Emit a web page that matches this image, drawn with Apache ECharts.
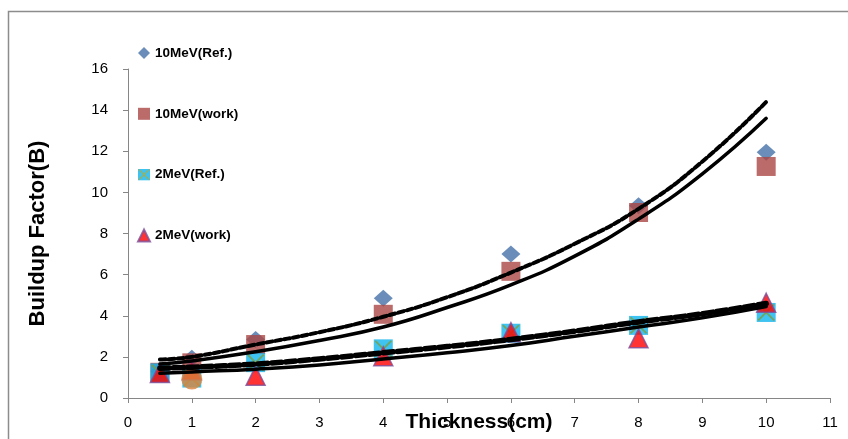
<!DOCTYPE html>
<html>
<head>
<meta charset="utf-8">
<script src="https://cdn.jsdelivr.net/npm/echarts@6/dist/echarts.min.js"></script>
<style>
html,body{margin:0;padding:0;background:#fff;}
#chart{width:848px;height:439px;}
</style>
</head>
<body>
<div id="chart"></div>
<script>
// ---- data ----
const thickness = [0.5, 1, 2, 4, 6, 8, 10];
const mev10Ref  = [1.3, 1.93, 2.85, 4.85, 7.0, 9.35, 11.95];
const mev10Work = [1.25, 1.71, 2.6, 4.07, 6.16, 9.02, 11.26];
const mev2Ref   = [1.22, 0.97, 1.72, 2.39, 3.15, 3.53, 4.16];
const mev2Work  = [1.22, 1.35, 1.08, 2.03, 3.2, 2.9, 4.63];
const extraX = [1];
const extraY = [0.92];

// trend lines
const trendX = [0.5, 1, 2, 3, 4, 5, 6, 7, 8, 9, 10];
const trend10Dashed = [1.87, 2.0, 2.6, 3.2, 3.95, 4.9, 6.1, 7.5, 9.2, 11.5, 14.4];
const trend10Solid  = [1.65, 1.8, 2.25, 2.8, 3.45, 4.4, 5.5, 6.9, 8.7, 10.9, 13.6];
const trend2Dashed  = [1.45, 1.5, 1.65, 1.9, 2.2, 2.5, 2.85, 3.25, 3.7, 4.1, 4.6];
const trend2Solid   = [1.2, 1.27, 1.4, 1.6, 1.9, 2.2, 2.55, 3.0, 3.45, 3.9, 4.45];

const seriesNames = ['10MeV(Ref.)', '10MeV(work)', '2MeV(Ref.)', '2MeV(work)'];
const xTicks = {min: 0, max: 11, interval: 1};
const yTicks = {min: 0, max: 16, interval: 2};

function pairs(xs, ys) { return xs.map((x, i) => [x, ys[i]]); }

const crossSquare = 'image://data:image/svg+xml;utf8,' + encodeURIComponent(
  '<svg xmlns="http://www.w3.org/2000/svg" width="40" height="40" viewBox="0 0 20 20">' +
  '<rect x="0" y="0" width="20" height="20" fill="#0FB4EE"/>' +
  '<path d="M1.5 1.5 L18.5 18.5 M18.5 1.5 L1.5 18.5" stroke="#7F9E3A" stroke-width="2.2" fill="none"/>' +
  '</svg>');

const labelFont = '"Liberation Sans", Arial, sans-serif';
const boldFont = '"Liberation Sans", Arial, sans-serif';

const chart = echarts.init(document.getElementById('chart'), null, {renderer: 'canvas'});

function trend(data, type, width) {
  return {
    type: 'line', data: data, smooth: true, showSymbol: false, symbol: 'none',
    silent: true, z: 5, legendHoverLink: false,
    lineStyle: {color: '#000', width: width, type: type, cap: 'round', join: 'round'}
  };
}

chart.setOption({
  animation: false,
  backgroundColor: '#fff',
  graphic: [{
    type: 'rect', left: 6, top: 9, shape: {width: 900, height: 500},
    style: {fill: 'none', stroke: '#8c8c8c', lineWidth: 1.5}, z: -1
  }],
  grid: {left: 128, right: 18, top: 69, bottom: 41, containLabel: false, outerBoundsMode: 'none'},
  legend: {
    orient: 'vertical', left: 137, top: 46, itemGap: 46.8, padding: 0,
    itemWidth: 12, itemHeight: 12,
    textStyle: {fontFamily: boldFont, fontWeight: 'bold', fontSize: 13.5, color: '#000'},
    data: [
      {name: seriesNames[0], icon: 'diamond'},
      {name: seriesNames[1], icon: 'rect'},
      {name: seriesNames[2], icon: crossSquare},
      {name: seriesNames[3], icon: 'triangle'}
    ]
  },
  xAxis: {
    type: 'value', min: xTicks.min, max: xTicks.max, interval: xTicks.interval,
    name: 'Thickness(cm)', nameLocation: 'middle', nameGap: 14, nameMoveOverlap: false,
    nameTextStyle: {fontFamily: boldFont, fontWeight: 'bold', fontSize: 21, color: '#000'},
    axisLine: {show: true, lineStyle: {color: '#868686', width: 1}},
    axisTick: {show: true, length: 5, lineStyle: {color: '#868686'}},
    axisLabel: {margin: 17, fontFamily: labelFont, fontSize: 15, color: '#000'},
    splitLine: {show: false}
  },
  yAxis: {
    type: 'value', min: yTicks.min, max: yTicks.max, interval: yTicks.interval,
    name: 'Buildup Factor(B)', nameLocation: 'middle', nameGap: 79, nameMoveOverlap: false,
    nameTextStyle: {fontFamily: boldFont, fontWeight: 'bold', fontSize: 22, color: '#000'},
    axisLine: {show: true, lineStyle: {color: '#868686', width: 1}},
    axisTick: {show: true, length: 5, lineStyle: {color: '#868686'}},
    axisLabel: {margin: 20, fontFamily: labelFont, fontSize: 15, color: '#000'},
    splitLine: {show: false}
  },
  series: [
    {name: seriesNames[0], type: 'scatter', data: pairs(thickness, mev10Ref),
     symbol: 'diamond', symbolSize: [19, 17], itemStyle: {color: '#4572A7'}},
    {name: seriesNames[1], type: 'scatter', data: pairs(thickness, mev10Work),
     symbol: 'rect', symbolSize: 19, itemStyle: {color: '#AA4643'}},
    {name: seriesNames[2], type: 'scatter', data: pairs(thickness, mev2Ref),
     symbol: 'rect', symbolSize: 19, itemStyle: {color: '#0FB4EE'}},
    {name: seriesNames[2], type: 'scatter', data: pairs(thickness, mev2Ref),
     symbol: 'path://M0,0L20,20M20,0L0,20', symbolSize: 16,
     itemStyle: {color: 'none', borderColor: '#7F9E3A', borderWidth: 1.8}},
    {name: seriesNames[3], type: 'scatter', data: pairs(thickness, mev2Work),
     symbol: 'triangle', symbolSize: 19,
     itemStyle: {color: '#FF0000', borderColor: '#7A4F9A', borderWidth: 1.5}},
    {name: 'extra', type: 'scatter', data: pairs(extraX, extraY),
     symbol: 'circle', symbolSize: 21, itemStyle: {color: '#DB843D'}},
    trend(pairs(trendX, trend10Solid), 'solid', 3.5),
    trend(pairs(trendX, trend10Dashed), 'solid', 2),
    trend(pairs(trendX, trend10Dashed), [6, 3], 4),
    trend(pairs(trendX, trend2Solid), 'solid', 3.5),
    trend(pairs(trendX, trend2Dashed), [10, 4], 5.5)
  ]
});
</script>
</body>
</html>
